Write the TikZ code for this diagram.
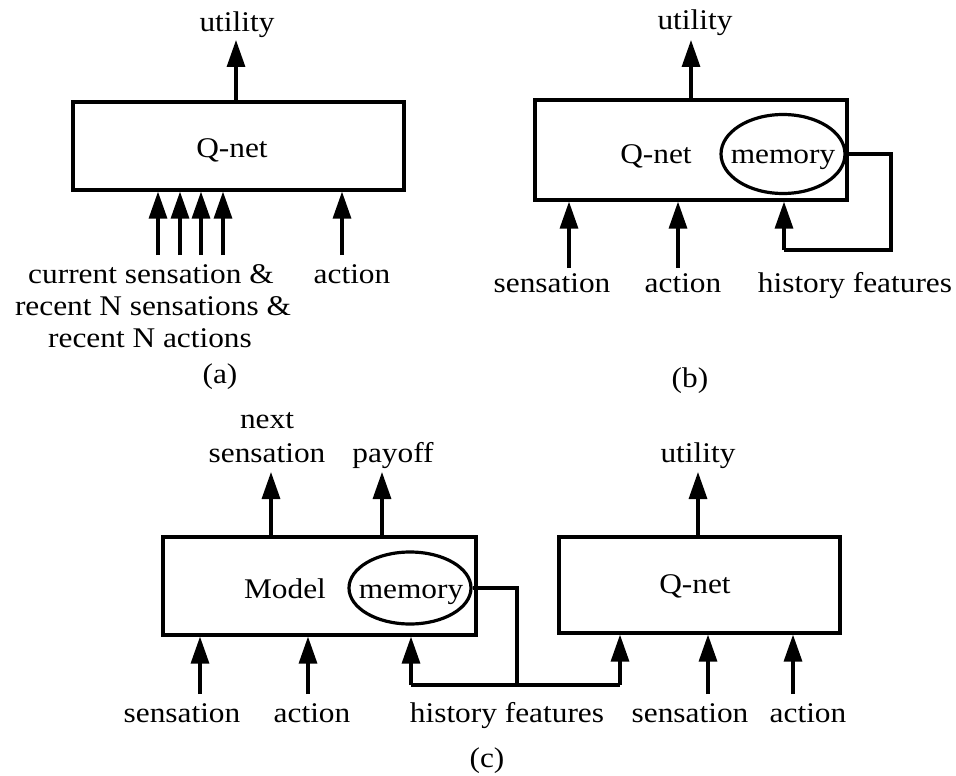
\documentclass[tikz,border=0pt]{standalone}
\usepackage{fontspec}
\setmainfont{Liberation Serif}[FakeStretch=1.1]
\usetikzlibrary{arrows.meta,shapes.geometric}
\begin{document}
\begin{tikzpicture}[x=1pt,y=-1pt,
  lw/.style={line width=3.2pt},
  box/.style={draw,lw,rectangle,inner sep=0pt},
  memo/.style={draw,lw,ellipse,inner sep=0pt},
  arr/.style={lw,-{Triangle[length=27pt,width=18pt]}},
  wire/.style={lw},
  lab/.style={anchor=base,inner sep=0pt,font=\fontsize{28.5}{32}\selectfont}]
\useasboundingbox (0,0) rectangle (956,776);
\fill[white] (0,0) rectangle (956,776);

% ---------------- (a) ----------------
\node[box,minimum width=331pt,minimum height=88pt] (qa) at (238.5,146) {};
\node[lab] (qat) at (232,157) {Q-net};
\node[lab] (ua) at (237,32) {utility};
\coordinate (uaa) at (236,40);
\draw[arr] (qa.north -| uaa) -- (uaa);
\coordinate (a1) at (158,255);
\coordinate (a2) at (180,255);
\coordinate (a3) at (201,255);
\coordinate (a4) at (223,255);
\coordinate (a5) at (342,255);
\foreach \c in {a1,a2,a3,a4,a5} \draw[arr] (\c) -- (\c |- qa.south);
\node[lab] (la1) at (151,283) {current sensation \&};
\node[lab] (la2) at (153,315) {recent N sensations \&};
\node[lab] (la3) at (150,347) {recent N actions};
\node[lab] (la4) at (352,283) {action};
\node[lab] (capa) at (220,383) {(a)};

% ---------------- (b) ----------------
\node[box,minimum width=312pt,minimum height=100pt] (qb) at (691,150) {};
\node[lab] (qbt) at (656,163) {Q-net};
\node[memo,minimum width=124pt,minimum height=79pt] (mb) at (783,154) {};
\node[lab] (mbt) at (783,163) {memory};
\node[lab] (ub) at (695,30) {utility};
\coordinate (ubb) at (691,40);
\draw[arr] (qb.north -| ubb) -- (ubb);
\coordinate (b1) at (569,268);
\coordinate (b2) at (678,268);
\foreach \c in {b1,b2} \draw[arr] (\c) -- (\c |- qb.south);
\coordinate (bk1) at (891,154);
\coordinate (bk2) at (891,250);
\coordinate (bk3) at (784,250);
\draw[wire] (mb.east) -- (bk1) -- (bk2) -- (bk3);
\draw[arr] (bk3) -- (bk3 |- qb.south);
\node[lab] (lb1) at (552,292) {sensation};
\node[lab] (lb2) at (683,292) {action};
\node[lab] (lb3) at (855,292) {history features};
\node[lab] (capb) at (690,387) {(b)};

% ---------------- (c) ----------------
\node[box,minimum width=313pt,minimum height=98pt] (mc) at (319.5,586) {};
\node[lab] (mct) at (285,598) {Model};
\node[memo,minimum width=122pt,minimum height=72pt] (mmc) at (410,588) {};
\node[lab] (mmct) at (411,598) {memory};
\node[box,minimum width=281pt,minimum height=96pt] (qc) at (699.5,585) {};
\node[lab] (qct) at (695,593) {Q-net};

\node[lab] (nx1) at (267,428) {next};
\node[lab] (nx2) at (267,462) {sensation};
\node[lab] (pay) at (393,462) {payoff};
\node[lab] (uc) at (698,462) {utility};
\coordinate (o1) at (271,472);
\coordinate (o2) at (382,472);
\coordinate (o3) at (698,472);
\draw[arr] (mc.north -| o1) -- (o1);
\draw[arr] (mc.north -| o2) -- (o2);
\draw[arr] (qc.north -| o3) -- (o3);

\coordinate (c1) at (200,694);
\coordinate (c2) at (308,694);
\coordinate (c3) at (708,694);
\coordinate (c4) at (793,694);
\foreach \c in {c1,c2} \draw[arr] (\c) -- (\c |- mc.south);
\foreach \c in {c3,c4} \draw[arr] (\c) -- (\c |- qc.south);

\coordinate (ck1) at (517,588);
\coordinate (ck2) at (517,685);
\coordinate (ck3) at (411,685);
\coordinate (ck4) at (620,685);
\draw[wire] (mmc.east) -- (ck1) -- (ck2);
\draw[wire] (ck3) -- (ck4);
\draw[arr] (ck3) -- (ck3 |- mc.south);
\draw[arr] (ck4) -- (ck4 |- qc.south);

\node[lab] (lc1) at (182,722) {sensation};
\node[lab] (lc2) at (312,722) {action};
\node[lab] (lc3) at (507,722) {history features};
\node[lab] (lc4) at (690,722) {sensation};
\node[lab] (lc5) at (808,722) {action};
\node[lab] (capc) at (487,767) {(c)};
\end{tikzpicture}
\end{document}
